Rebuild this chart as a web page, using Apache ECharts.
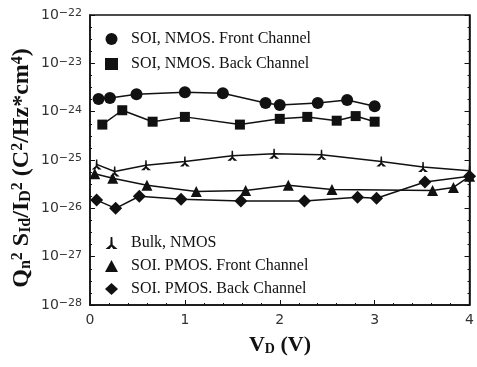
<!DOCTYPE html>
<html><head><meta charset="utf-8">
<script src="https://cdn.jsdelivr.net/npm/echarts@6/dist/echarts.min.js"></script>
<style>html,body{margin:0;padding:0;background:#fff}#c{width:477px;height:367px}</style>
</head><body><div id="c"></div>
<script>
// Data
const seriesNames = ["SOI, NMOS. Front Channel", "SOI, NMOS. Back Channel", "Bulk, NMOS", "SOI. PMOS. Front Channel", "SOI. PMOS. Back Channel"];
const vNFront = [0.09, 0.21, 0.49, 1.0, 1.40, 1.85, 2.0, 2.40, 2.71, 3.0];
const sNFront = [1.82e-24, 1.91e-24, 2.29e-24, 2.51e-24, 2.40e-24, 1.51e-24, 1.38e-24, 1.51e-24, 1.74e-24, 1.29e-24];
const vNBack = [0.13, 0.34, 0.66, 1.0, 1.58, 2.0, 2.29, 2.6, 2.8, 3.0];
const sNBack = [5.4e-25, 1.07e-24, 6.2e-25, 7.8e-25, 5.4e-25, 7.1e-25, 7.8e-25, 6.5e-25, 8.1e-25, 6.2e-25];
const vBulk = [0.07, 0.26, 0.59, 1.0, 1.5, 1.94, 2.44, 3.07, 3.51, 4.0];
const sBulk = [8.1e-26, 5.8e-26, 7.8e-26, 9.3e-26, 1.23e-25, 1.35e-25, 1.29e-25, 9.3e-26, 7.2e-26, 6.0e-26];
const vPFront = [0.05, 0.24, 0.6, 1.12, 1.64, 2.09, 2.55, 3.61, 3.83, 4.0];
const sPFront = [5.2e-26, 4.2e-26, 3.0e-26, 2.24e-26, 2.34e-26, 3.0e-26, 2.45e-26, 2.34e-26, 2.7e-26, 4.6e-26];
const vPBack = [0.07, 0.27, 0.52, 0.96, 1.59, 2.26, 2.82, 3.02, 3.53, 4.0];
const sPBack = [1.48e-26, 1.0e-26, 1.78e-26, 1.55e-26, 1.41e-26, 1.41e-26, 1.70e-26, 1.62e-26, 3.5e-26, 4.6e-26];
const xTicks = [0, 1, 2, 3, 4];
const yDecades = [-28, -27, -26, -25, -24, -23, -22]; // exponents of 10 on the log axis

const bulkSym = 'path://M4.3,0 L5.7,0 L6,6.5 L10,10 L6.5,10 L5,8 L3.5,10 L0,10 L4,6.5 Z';
const symbols = ['circle', 'rect', bulkSym, 'triangle', 'diamond'];
const sizes = [12, 10, 10, 11, 13];
const xs = [vNFront, vNBack, vBulk, vPFront, vPBack];
const ys = [sNFront, sNBack, sBulk, sPFront, sPBack];

const serif = '"Liberation Serif", "Times New Roman", serif';
const sans = '"DejaVu Sans", sans-serif';

// log-scale axis: values are placed at log10(value)
const series = seriesNames.map((n, i) => ({
  name: n, type: 'line', symbol: symbols[i], symbolSize: sizes[i],
  data: xs[i].map((v, j) => [v, Math.log10(ys[i][j])]),
  lineStyle: {color: '#111', width: 1.5}, itemStyle: {color: '#111'},
  showAllSymbol: true, z: 3
}));

const yLabel = {
  color: '#333', fontFamily: sans, fontSize: 14, margin: 8,
  formatter: v => '10{s|\u2212' + Math.abs(Math.round(v)) + '}',
  rich: {s: {fontSize: 11, fontFamily: sans, color: '#333', verticalAlign: 'top', lineHeight: 10, padding: [0, 0, 8, 0]}}
};
const yCommon = {
  type: 'value', min: yDecades[0], max: yDecades[yDecades.length - 1], interval: 1,
  axisLine: {show: true, lineStyle: {color: '#111', width: 1.5}},
  axisTick: {inside: true, length: 5, lineStyle: {color: '#111'}},
  minorTick: {show: true, splitNumber: 4, length: 2, lineStyle: {color: '#111'}},
  splitLine: {show: false}
};

const chart = echarts.init(document.getElementById('c'));
chart.setOption({
  animation: false,
  backgroundColor: '#fff',
  grid: {left: 90, right: 5, top: 15, bottom: 62, show: true, borderColor: '#111', borderWidth: 1.5},
  xAxis: [{
    type: 'value', min: xTicks[0], max: xTicks[xTicks.length - 1], interval: 1,
    axisLine: {show: true, lineStyle: {color: '#111', width: 1.5}},
    axisTick: {inside: true, length: 5, lineStyle: {color: '#111'}},
    minorTick: {show: true, splitNumber: 5, length: 2, lineStyle: {color: '#111'}},
    splitLine: {show: false},
    axisLabel: {color: '#333', fontFamily: sans, fontSize: 14, margin: 8}
  }],
  yAxis: [
    Object.assign({position: 'left', axisLabel: yLabel}, yCommon),
    Object.assign({position: 'right', axisLabel: {show: false}}, yCommon)
  ],
  legend: [{
    data: [0, 1].map(i => ({name: seriesNames[i], icon: symbols[i]})),
    orient: 'vertical', left: 100, top: 26, itemWidth: 13, itemHeight: 12, itemGap: 9,
    textStyle: {fontFamily: serif, fontSize: 16, color: '#111', padding: [0, 0, 0, 8]}, inactiveColor: '#111'
  }, {
    data: [2, 3, 4].map(i => ({name: seriesNames[i], icon: symbols[i]})),
    orient: 'vertical', left: 100, top: 230, itemWidth: 13, itemHeight: 12, itemGap: 7,
    textStyle: {fontFamily: serif, fontSize: 16, color: '#111', padding: [0, 0, 0, 8]}, inactiveColor: '#111'
  }],
  graphic: [{
    type: 'text', x: 22, y: 168, rotation: Math.PI / 2,
    style: {
      text: 'Q{sub|n}{sup|2} S{sub|Id}/I{sub|D}{sup|2} (C{sup|2}/Hz*cm{sup|4})',
      fontFamily: serif, fontWeight: 'bold', fontSize: 24, fill: '#111',
      align: 'center', verticalAlign: 'middle',
      rich: {
        sub: {fontFamily: serif, fontWeight: 'bold', fontSize: 16, verticalAlign: 'bottom', lineHeight: 12, padding: [9, 0, 0, 0]},
        sup: {fontFamily: serif, fontWeight: 'bold', fontSize: 16, verticalAlign: 'top', lineHeight: 12, padding: [0, 0, 9, 0]}
      }
    }
  }, {
    type: 'text', x: 280, y: 345,
    style: {
      text: 'V{sub|D} (V)', fontFamily: serif, fontWeight: 'bold', fontSize: 22, fill: '#111',
      align: 'center', verticalAlign: 'middle',
      rich: {sub: {fontFamily: serif, fontWeight: 'bold', fontSize: 14, verticalAlign: 'bottom', lineHeight: 10, padding: [9, 0, 0, 0]}}
    }
  }],
  series: series
});
</script></body></html>
